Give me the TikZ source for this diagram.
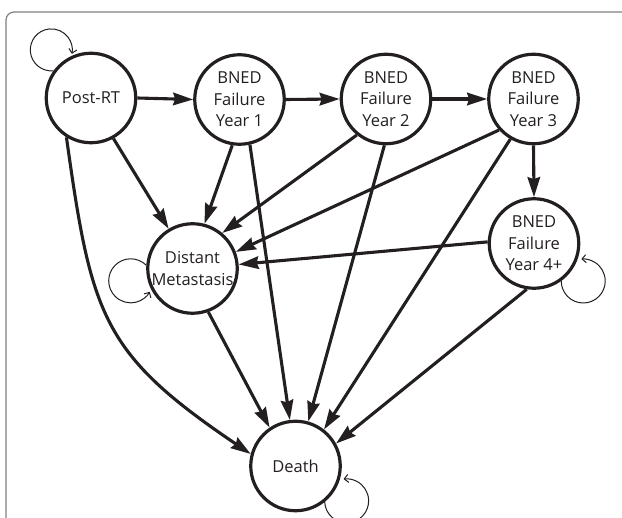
\documentclass[tikz,border=0pt]{standalone}
\usepackage{fontspec}
\setmainfont{Open Sans}
\usetikzlibrary{arrows.meta}
\definecolor{ink}{HTML}{231F20}
\definecolor{framegray}{HTML}{808080}
\begin{document}
\begin{tikzpicture}[x=1pt,y=1pt,
  state/.style={circle, draw=ink, line width=3.2pt, minimum size=89.5pt, inner sep=0pt,
    align=center, text=ink, font=\fontsize{16.5}{21.5}\selectfont},
  edge/.style={draw=ink, line width=3.1pt, -{Stealth[length=20pt,width=12.5pt,inset=2pt]}},
  loopline/.style={draw=ink, line width=1pt, -{Straight Barb[length=4pt,width=8pt]}},
  frame/.style={draw=framegray, line width=1.2pt, rounded corners=8pt}]
\useasboundingbox (0,0) rectangle (622,-518);
\clip (0,0) rectangle (622,-518);
\draw[frame] (6,-560) -- (6,-12) -- (660,-12);

\node[state] (post)  at (91,-98)     {Post-RT};
\node[state] (y1)    at (239.5,-99.5) {BNED\\Failure\\Year 1};
\node[state] (y2)    at (386,-99)    {BNED\\Failure\\Year 2};
\node[state] (y3)    at (533.5,-99)  {BNED\\Failure\\Year 3};
\node[state] (y4)    at (534,-243.5) {BNED\\Failure\\Year 4+};
\node[state] (dm)    at (192.5,-268.5) {Distant\\Metastasis};
\node[state] (death) at (295.5,-466) {Death};

% horizontal chain
\draw[edge] (post.0) -- (y1.180);
\draw[edge] (y1.0) -- (y2.180);
\draw[edge] (y2.0) -- (y3.180);
\draw[edge] (y3.-90) -- (y4.90);

% into distant metastasis
\draw[edge] (post.-61) -- (dm.121.6);
\draw[edge] (y1.-99.4) -- (dm.75);
\draw[edge] (y2.-129.5) -- (dm.50);
\draw[edge] (y3.-138.9) -- (dm.21.3);
\draw[edge] (y4.178) -- (dm.5);

% into death
\draw[edge] (post.-122) to[out=-82, in=146, looseness=1.26] (death.165);
\draw[edge] (y1.-77.5) -- (death.97);
\draw[edge] (y2.-92.6) -- (death.74.5);
\draw[edge] (y3.-120.6) -- (death.52.5);
\draw[edge] (y4.-99) -- (death.29.5);
\draw[edge] (dm.-70.4) -- (death.124.8);

% self loops
\draw[loopline] (post.144.2) arc[start angle=-84, end angle=-371, radius=21];
\draw[loopline] (dm.176) arc[start angle=45, end angle=330, radius=22];
\draw[loopline] (y4.-54.5) arc[start angle=180, end angle=455, radius=22];
\draw[loopline] (death.-51) arc[start angle=183, end angle=458, radius=22];
\end{tikzpicture}
\end{document}
